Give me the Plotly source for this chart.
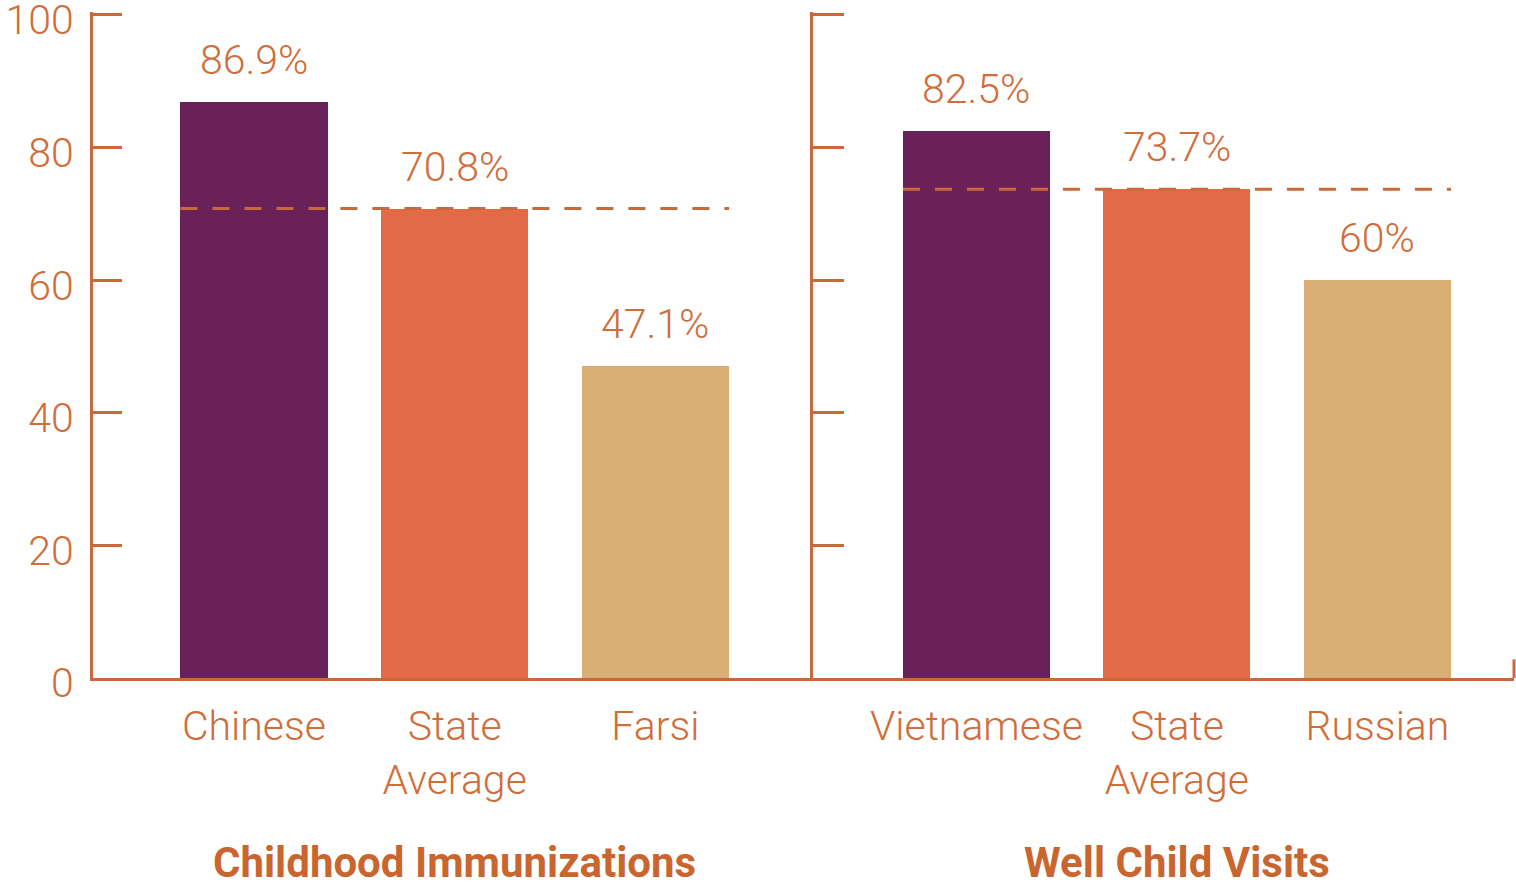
import plotly.graph_objects as go

# ---- data ----
panel_titles = ["Childhood Immunizations", "Well Child Visits"]
imm_categories = ["Chinese", "State<br>Average", "Farsi"]
imm_values = [86.9, 70.8, 47.1]
imm_labels = ["86.9%", "70.8%", "47.1%"]
wcv_categories = ["Vietnamese", "State<br>Average", "Russian"]
wcv_values = [82.5, 73.7, 60.0]
wcv_labels = ["82.5%", "73.7%", "60%"]
y_ticks = [0, 20, 40, 60, 80, 100]
bar_colors = ["#6A2158", "#E26A46", "#D9AE75"]

LINE = "#C9683A"
TEXT = "#CF6E3B"
FONT = "Roboto"
BAR_W = 0.733

fig = go.Figure()

panels = [
    (imm_categories, imm_values, imm_labels, "x", "y"),
    (wcv_categories, wcv_values, wcv_labels, "x2", "y2"),
]
for cats, vals, labs, xa, ya in panels:
    pos = list(range(len(cats)))
    fig.add_trace(go.Bar(x=pos, y=vals, width=BAR_W, marker=dict(color=bar_colors, line=dict(width=0)),
                         xaxis=xa, yaxis=ya, showlegend=False, hoverinfo="skip"))
    avg = vals[1]
    fig.add_trace(go.Scatter(x=[pos[0] - BAR_W / 2, pos[-1] + BAR_W / 2], y=[avg, avg], mode="lines",
                             line=dict(color=LINE, width=3, dash="17px,15px"),
                             xaxis=xa, yaxis=ya, showlegend=False, hoverinfo="skip"))
    for p, v, t in zip(pos, vals, labs):
        fig.add_annotation(x=p, y=v, xref=xa, yref=ya, text=t, showarrow=False, yanchor="bottom",
                           yshift=16, font=dict(family=FONT, size=41, color=TEXT, weight=300))

split = (813 - 93) / 1421
tick_font = dict(family=FONT, size=41, color=TEXT, weight=300)
Y_RANGE = [0, 100.45]

common_x = dict(showline=True, linewidth=3, linecolor=LINE, ticks="", showgrid=False, zeroline=False,
                tickfont=tick_font, tickmode="array", tickvals=[0, 1, 2], ticklabelstandoff=10,
                automargin=False)
fig.update_layout(
    width=1516, height=883,
    margin=dict(l=93, r=2, t=12, b=205, autoexpand=False),
    paper_bgcolor="white", plot_bgcolor="white",
    bargap=0,
    xaxis=dict(domain=[0, split], range=[-0.802, 2.785], ticktext=imm_categories, anchor="y", **common_x),
    xaxis2=dict(domain=[split, 1], range=[-0.815, 2.681], ticktext=wcv_categories, anchor="y2", **common_x),
    yaxis=dict(range=Y_RANGE, tickvals=y_ticks, ticks="inside", ticklen=29, tickwidth=3, tickcolor=LINE,
               showline=True, linewidth=3, linecolor=LINE, showgrid=False, zeroline=False,
               tickfont=tick_font, anchor="x", ticklabelstandoff=8, ticklabelshift=5,
               ticklabeloverflow="allow", automargin=False),
    yaxis2=dict(range=Y_RANGE, tickvals=y_ticks, ticks="inside", ticklen=31, tickwidth=3, tickcolor=LINE,
                showline=True, linewidth=3, linecolor=LINE, showgrid=False, zeroline=False,
                showticklabels=False, anchor="x2", automargin=False),
)

# small end tick at right end of the baseline
fig.add_shape(type="line", xref="x2 domain", yref="y2 domain", x0=1, x1=1, y0=0, y1=0.028,
              line=dict(color=LINE, width=3))

for i, title in enumerate(panel_titles):
    fig.add_annotation(x=1, y=-0.2775, xref="x" if i == 0 else "x2", yref="paper", text="<b>" + title + "</b>",
                       showarrow=False, yanchor="middle", font=dict(family=FONT, size=42, color="#C9662F"))

fig.write_html("out.html", config={"displayModeBar": False},
               post_script="document.body.style.margin='0';")
